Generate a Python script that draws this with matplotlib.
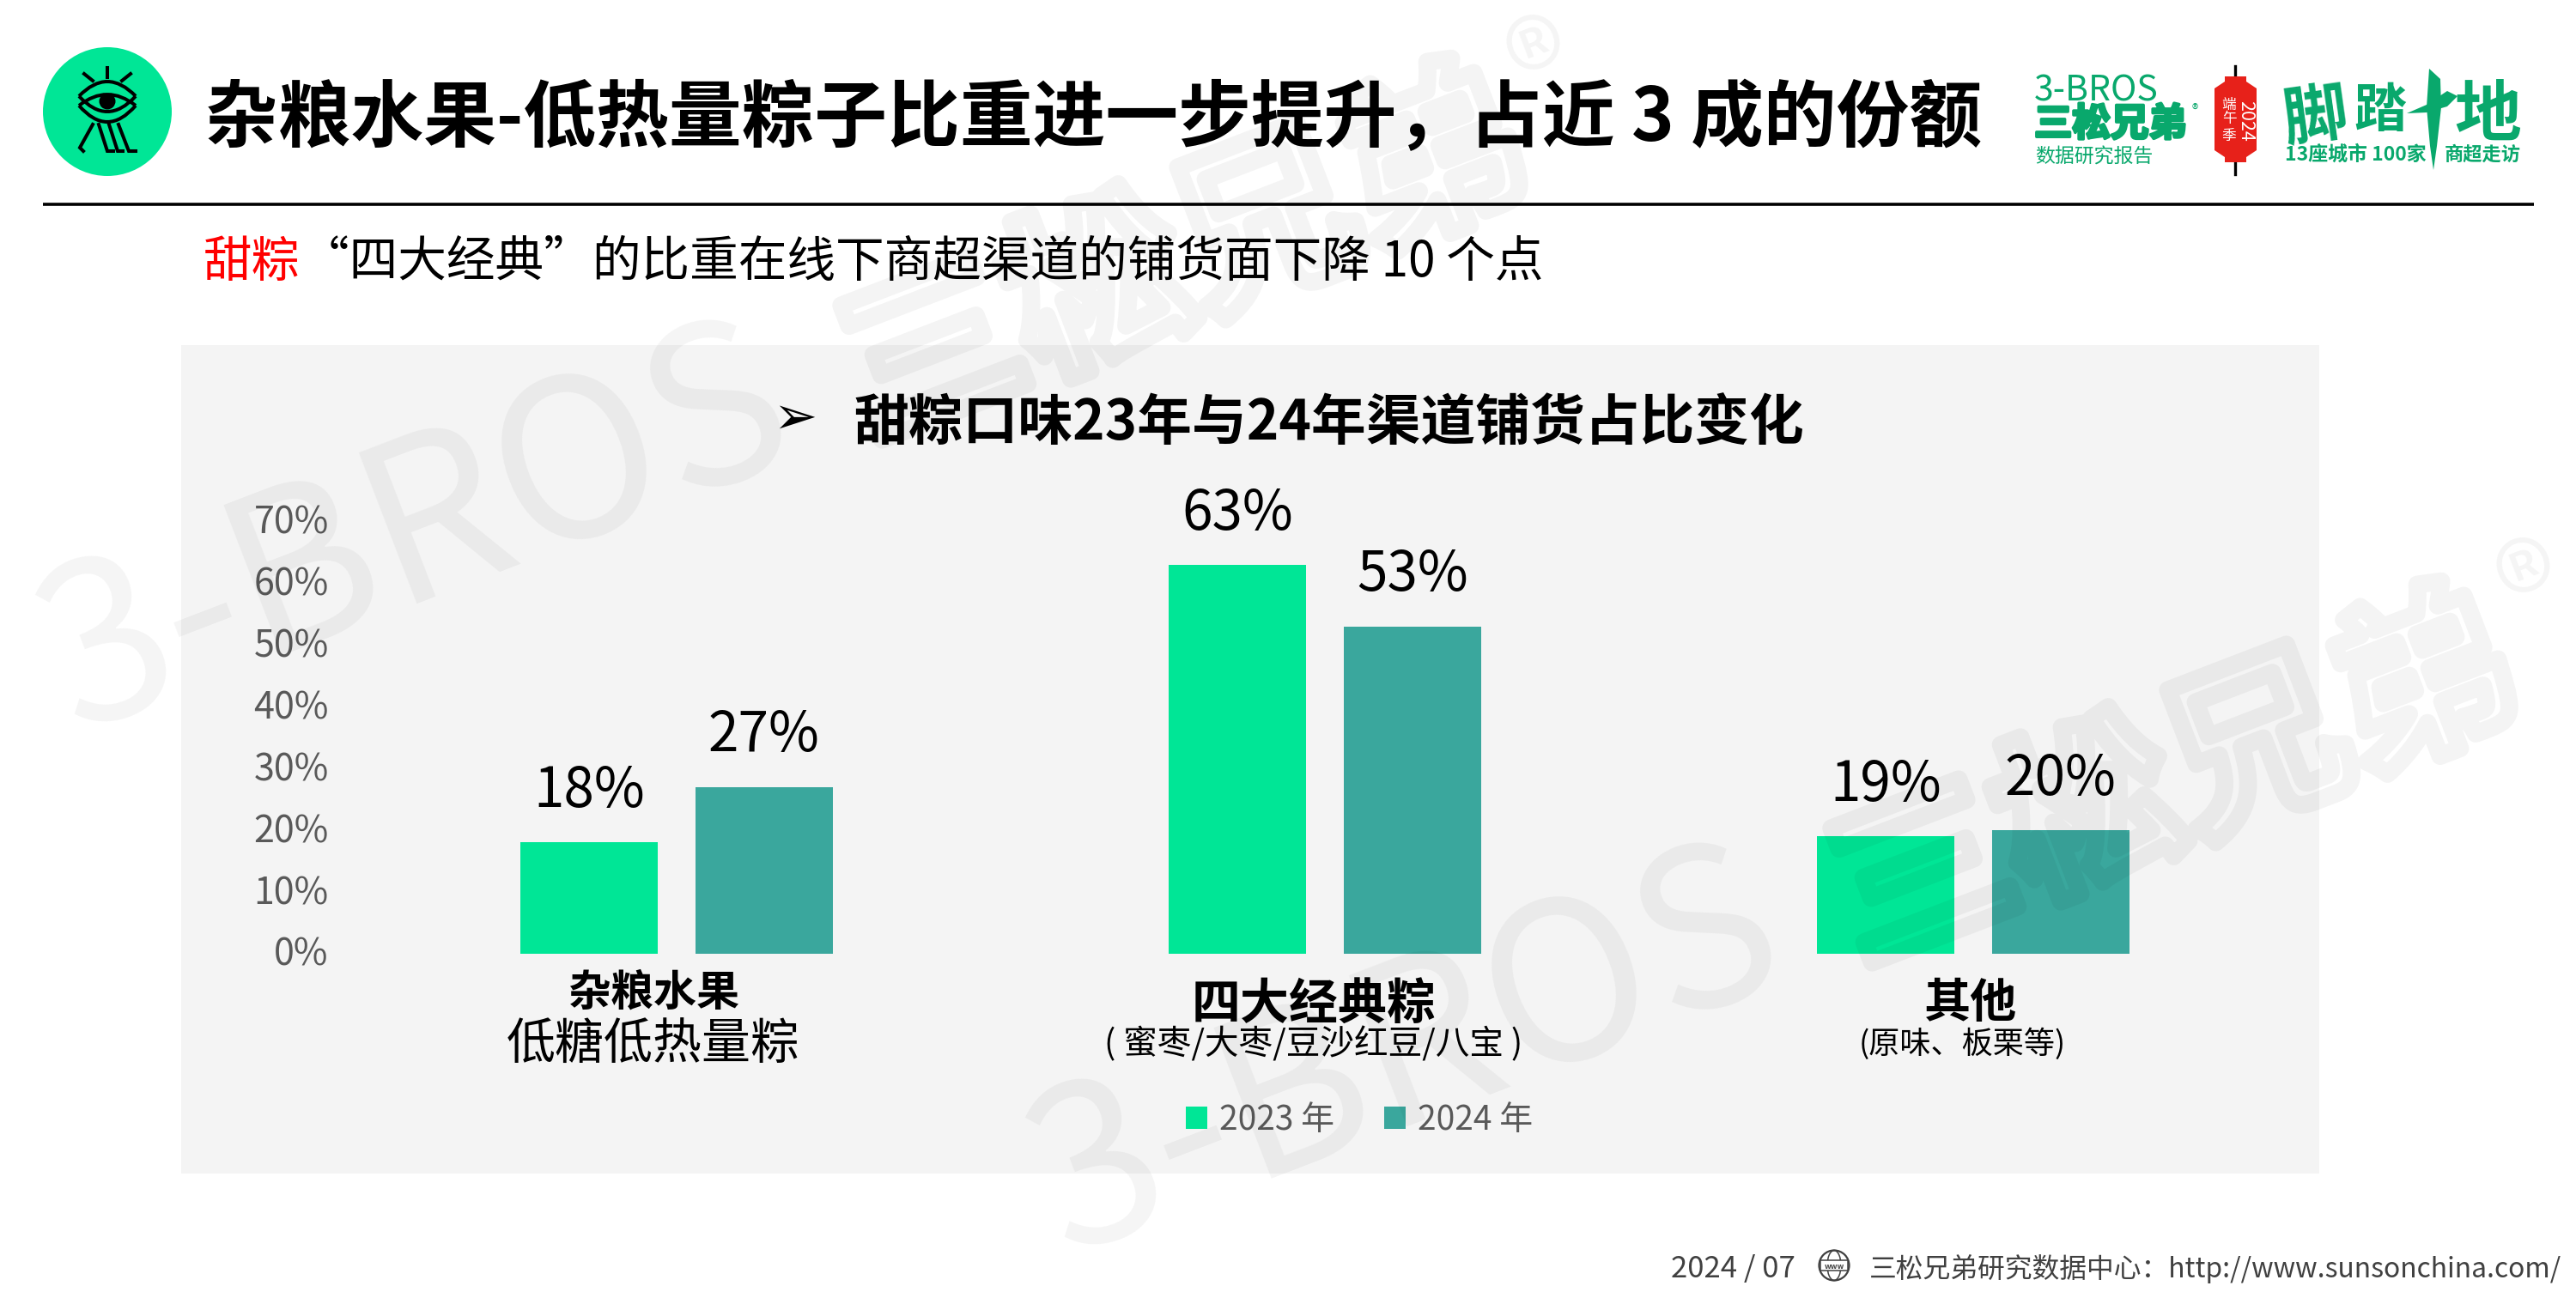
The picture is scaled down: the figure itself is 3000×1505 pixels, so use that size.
import numpy as np
import matplotlib
matplotlib.use("Agg")
import matplotlib.pyplot as plt
import matplotlib.patheffects as pe
from matplotlib.patches import Circle, Ellipse, PathPatch, Polygon, Rectangle
from matplotlib.path import Path
from matplotlib.transforms import ScaledTranslation

plt.rcParams["font.family"] = ["Noto Sans CJK SC", "DejaVu Sans"]

categories = ["杂粮水果", "四大经典粽", "其他"]
share_2023 = [18, 63, 19]
share_2024 = [27, 53, 20]
series_names = ["2023 年", "2024 年"]
y_ticks = [0, 10, 20, 30, 40, 50, 60, 70]

GREEN = "#00E696"
TEAL = "#3AA79D"
BRAND = "#09A86C"
W, H = 3000, 1505


class OutlineOnly(pe.AbstractPathEffect):
    # fat stroke without the fill, so a translucent glyph stays one even tone
    def __init__(self, width):
        super().__init__()
        self.width = width

    def draw_path(self, renderer, gc, tpath, affine, rgbFace=None):
        gc0 = renderer.new_gc()
        gc0.copy_properties(gc)
        gc0.set_linewidth(self.width)
        gc0.set_foreground(rgbFace)
        gc0.set_alpha(gc.get_alpha())
        renderer.draw_path(gc0, tpath, affine, None)
        gc0.restore()


fig = plt.figure(figsize=(30, 15.05), dpi=100, facecolor="white")

# pixel canvas for everything around the chart
bg = fig.add_axes([0, 0, 1, 1], zorder=0)
bg.set_xlim(0, W)
bg.set_ylim(H, 0)
bg.axis("off")


def label(x, y, s, size, color="black", weight="regular", ha="center", **kw):
    return bg.text(x, y, s, fontsize=size, color=color, fontweight=weight,
                   ha=ha, va="center_baseline", **kw)


def curve(x0, x1, y0, yc):
    # quadratic arc used by the eye logo
    path = Path([(x0, y0), ((x0 + x1) / 2, yc), (x1, y0)],
                [Path.MOVETO, Path.CURVE3, Path.CURVE3])
    bg.add_patch(PathPatch(path, fc="none", ec="black", lw=2.9))


# eye logo
bg.add_patch(Circle((125, 130), 75, fc=GREEN, ec="none"))
for xs, ys in [([125, 125], [79, 90]), ([98, 108], [86, 94]), ([152, 142], [86, 94]),
               ([108, 93, 97], [145, 172, 176]), ([115, 125, 132], [145, 176, 176]),
               ([127, 137, 143], [145, 176, 176]), ([138, 150, 158], [145, 176, 176])]:
    bg.plot(xs, ys, color="black", lw=2.9, solid_joinstyle="miter")
curve(92, 158, 112, 78)
curve(92, 158, 112, 148)
curve(92, 158, 123, 97)
curve(92, 158, 123, 161)
bg.add_patch(Circle((125, 118), 9.5, fc="black", ec="none"))

# header
label(239, 130, "杂粮水果-低热量粽子比重进一步提升，占近 3 成的份额", 61, weight="bold", ha="left")
bg.plot([50, 2951], [238, 238], color="black", lw=2.6, solid_capstyle="butt")
label(237, 299, "甜粽", 40.7, color="#FF0000", ha="left")
label(350, 299, "“四大经典”的比重在线下商超渠道的铺货面下降 10 个点", 40.8, ha="left")

# brand block
label(2369, 101, "3-BROS", 29.5, color=BRAND, weight="light", ha="left")
label(2369, 140, "三松兄弟", 32, color=BRAND, weight="bold", ha="left",
      path_effects=[pe.withStroke(linewidth=2.5, foreground=BRAND)])
label(2556, 126, "®", 11, color=BRAND)
label(2370, 181, "数据研究报告", 16.5, color=BRAND, ha="left")

# lantern
bg.plot([2603, 2603], [77, 203], color="black", lw=2.4)
bg.add_patch(Polygon([(2591, 89), (2616, 89), (2616, 95), (2628, 103), (2628, 175),
                      (2616, 183), (2616, 189), (2591, 189), (2591, 183), (2579, 175),
                      (2579, 103), (2591, 95)], fc="#E7211A", ec="none", zorder=3))
bg.text(2615, 141, "2024", fontsize=15.5, color="white", rotation=-90,
        ha="center", va="center", zorder=4)
for y, ch in zip([120, 137, 156], "端午季"):
    label(2596, y, ch, 12, color="white", zorder=4)

# campaign title: brush strokes of the big cross around a plain glyph
label(2697, 124, "脚", 54, color=BRAND, weight="bold", rotation=8)
label(2772, 124, "踏", 44, color=BRAND, weight="bold")
label(2897, 126, "地", 56, color=BRAND, weight="bold")
bg.add_patch(Polygon([(2829, 80), (2842, 92), (2843, 125), (2838, 170), (2834, 198),
                      (2830, 170), (2826, 125)], fc=BRAND, ec="none"))
bg.add_patch(Polygon([(2803, 132), (2826, 122), (2850, 106), (2862, 112), (2850, 124),
                      (2826, 131)], fc=BRAND, ec="none"))
label(2661, 178, "13座城市 100家", 16.5, color=BRAND, weight="bold", ha="left")
label(2847, 178, "商超走访", 16, color=BRAND, weight="bold", ha="left")

# grey panel and its heading
bg.add_patch(Rectangle((210.5, 402), 2490.5, 965, fc="#F4F4F4", ec="none"))
bg.text(926, 488, "➢", fontsize=44, ha="center", va="center", family=["DejaVu Sans"])
label(995, 486, "甜粽口味23年与24年渠道铺货占比变化", 45.9, weight="bold", ha="left")

# chart
ax = fig.add_axes([410.5 / W, 1 - 1110.7 / H, 2265 / W, 503 / H], zorder=1)
ax.patch.set_visible(False)
x = np.arange(len(categories))
bar_w = 0.212
shift = 0.135
bars_a = ax.bar(x - shift, share_2023, bar_w, color=GREEN, label=series_names[0])
bars_b = ax.bar(x + shift, share_2024, bar_w, color=TEAL, label=series_names[1])
ax.set_xlim(-0.5, 2.5)
ax.set_ylim(0, 70)
ax.set_xticks([])
ax.set_yticks(y_ticks)
ax.set_yticklabels(["{}%".format(t) for t in y_ticks], fontsize=31, color="#595959",
                   fontweight="light")
ax.tick_params(axis="y", length=0, pad=20)
nudge = ScaledTranslation(0, 2 / 72, fig.dpi_scale_trans)
for tick in ax.get_yticklabels():
    tick.set_transform(tick.get_transform() + nudge)
for side in ax.spines.values():
    side.set_visible(False)

for bars in (bars_a, bars_b):
    for b in bars:
        ax.annotate("{:.0f}%".format(b.get_height()),
                    (b.get_x() + b.get_width() / 2, b.get_height()),
                    xytext=(0, 43), textcoords="offset points",
                    ha="center", va="center", fontsize=46, annotation_clip=False)

ax.legend(loc="center", bbox_to_anchor=(1583 / W, 1 - 1305 / H),
          bbox_transform=fig.transFigure, ncols=2, frameon=False, fontsize=28,
          handlelength=0.64, handleheight=0.64, handletextpad=0.35,
          columnspacing=1.5, labelcolor="#595959")

# category captions
label(761, 1152, categories[0], 36, weight="bold")
label(761, 1210, "低糖低热量粽", 41, weight="light")
label(1530, 1164, categories[1], 41, weight="bold")
label(1530, 1212, "( 蜜枣/大枣/豆沙红豆/八宝 )", 28.5)
label(2295, 1163, categories[2], 39, weight="bold")
label(2285, 1212, "(原味、板栗等)", 26)

# footer
label(1946, 1475, "2024 / 07", 25, color="#404040", ha="left")
bg.add_patch(Ellipse((2136, 1474), 35, 35, fc="none", ec="#404040", lw=1.6))
bg.add_patch(Ellipse((2136, 1474), 16, 35, fc="none", ec="#404040", lw=1.1))
bg.add_patch(Rectangle((2120, 1468), 32, 12, fc="white", ec="#404040", lw=1.1, zorder=3))
label(2136, 1474, "www", 6.5, color="#404040", weight="bold", zorder=4)
label(2177, 1475, "三松兄弟研究数据中心：http://www.sunsonchina.com/", 22.9, color="#404040", ha="left")

# watermarks sit on top of everything
for dx, dy in [(0, 0), (1153, 609)]:
    fig.text((485 + dx) / W, 1 - (623 + dy) / H, "3-BROS", fontsize=185, fontweight="light",
             color="black", alpha=0.045, rotation=21, rotation_mode="anchor",
             ha="center", va="center", zorder=5)
    fig.text((1380 + dx) / W, 1 - (305 + dy) / H, "三松兄弟", fontsize=150, fontweight="bold",
             color="black", alpha=0.045, rotation=21, rotation_mode="anchor",
             ha="center", va="center", zorder=5, path_effects=[OutlineOnly(15)])
    fig.text((1800 + dx) / W, 1 - (88 + dy) / H, "®", fontsize=105, fontweight="light",
             color="black", alpha=0.045, rotation=21, rotation_mode="anchor",
             ha="center", va="center", zorder=5)

fig.savefig("out.png", dpi=100)
